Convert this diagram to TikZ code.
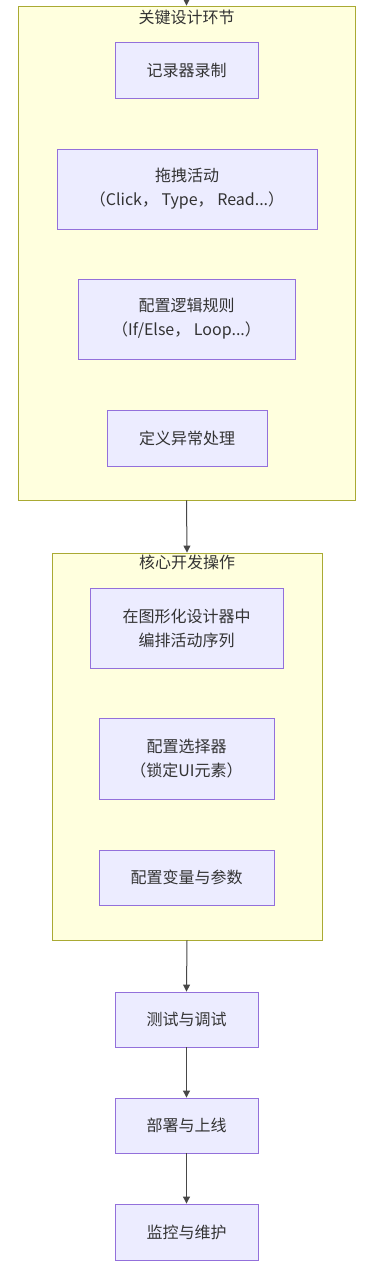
\documentclass[tikz,border=0pt]{standalone}
\usepackage{fontspec}
\setmainfont{Noto Sans CJK SC}
\usetikzlibrary{arrows.meta}
\definecolor{nodefill}{HTML}{ECECFF}
\definecolor{nodeline}{HTML}{9370DB}
\definecolor{clfill}{HTML}{FFFFDE}
\definecolor{clline}{HTML}{AAAA33}
\definecolor{txt}{HTML}{333333}
\tikzset{
  stepbox/.style={draw=nodeline, fill=nodefill, line width=0.9pt, rectangle, align=center,
    text=txt, font=\fontsize{16}{24}\selectfont, inner sep=0pt},
  cluster/.style={draw=clline, fill=clfill, line width=0.9pt, rectangle, inner sep=0pt},
  cltitle/.style={text=txt, font=\fontsize{16}{20}\selectfont, inner sep=1pt, anchor=north},
  flow/.style={draw=txt!90, line width=1pt, -{Triangle[length=7pt,width=7pt]}}
}
\begin{document}
\begin{tikzpicture}[x=1pt,y=-1pt]
\useasboundingbox (0,0) rectangle (369,1280);
\fill[white] (0,0) rectangle (369,1280);
% clusters
\node[cluster, minimum width=337pt, minimum height=494pt] (c1) at (186.5,253) {};
\node[cltitle] (t1) at ([yshift=-3.5pt]c1.north) {关键设计环节};
\node[cluster, minimum width=270pt, minimum height=387pt] (c2) at (187,746.5) {};
\node[cltitle] (t2) at ([yshift=-1.5pt]c2.north) {核心开发操作};
% nodes in cluster 1
\node[stepbox, minimum width=143pt, minimum height=56pt] (n1) at (186.5,70) {记录器录制};
\node[stepbox, minimum width=260pt, minimum height=80pt] (n2) at (187,189) {拖拽活动\\（Click， Type， Read...）};
\node[stepbox, minimum width=217pt, minimum height=80pt] (n3) at (186.5,319) {配置逻辑规则\\（If/Else， Loop...）};
\node[stepbox, minimum width=160pt, minimum height=56pt] (n4) at (187,438) {定义异常处理};
% nodes in cluster 2
\node[stepbox, minimum width=193pt, minimum height=80pt] (m1) at (186.5,628) {在图形化设计器中\\编排活动序列};
\node[stepbox, minimum width=175pt, minimum height=81pt] (m2) at (186.5,758.5) {配置选择器\\（锁定UI元素）};
\node[stepbox, minimum width=175pt, minimum height=55pt] (m3) at (186.5,877.5) {配置变量与参数};
% bottom nodes
\node[stepbox, minimum width=143pt, minimum height=55pt] (b1) at (186.5,1019.5) {测试与调试};
\node[stepbox, minimum width=143pt, minimum height=55pt] (b2) at (186.5,1125.5) {部署与上线};
\node[stepbox, minimum width=143pt, minimum height=56pt] (b3) at (186.5,1232) {监控与维护};
% connectors
\coordinate (top) at (186.5,-10);
\draw[flow] (top) -- (c1.north);
\draw[flow] (c1.south) -- (c2.north);
\draw[flow] (c2.south) -- (b1.north);
\draw[flow] (b1.south) -- (b2.north);
\draw[flow] (b2.south) -- (b3.north);
\end{tikzpicture}
\end{document}
